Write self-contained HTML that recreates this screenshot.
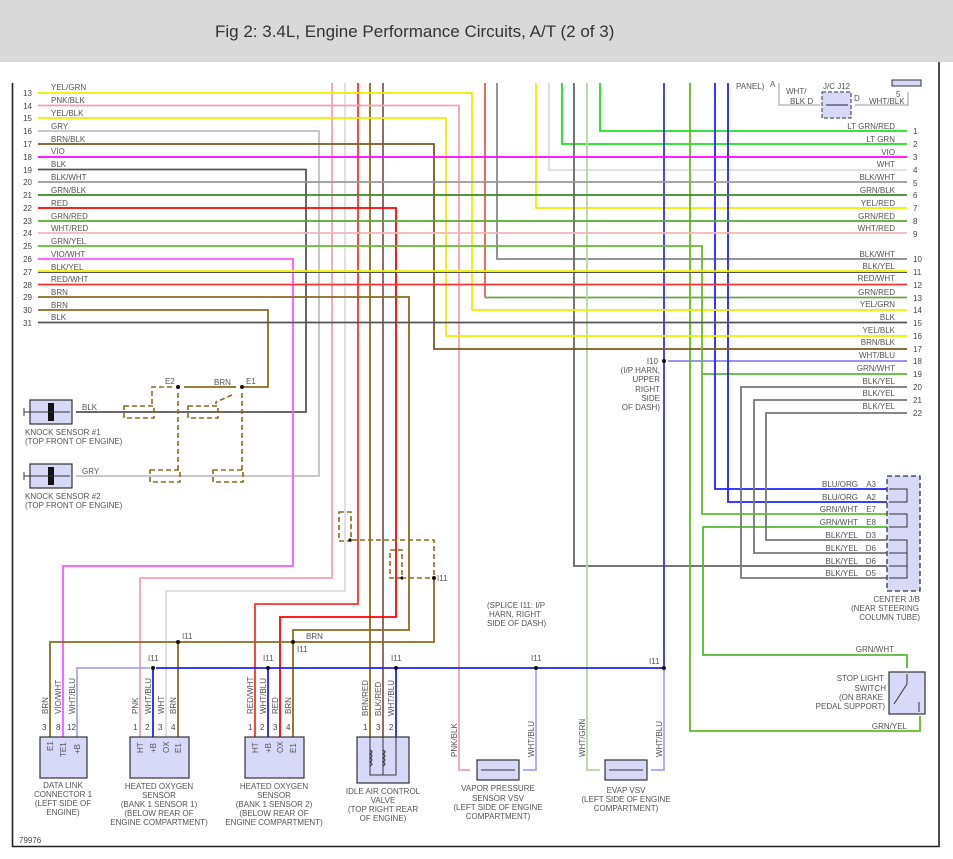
<!DOCTYPE html>
<html><head><meta charset="utf-8"><style>
html,body{margin:0;padding:0;background:#fff;}
svg{display:block;font-family:"Liberation Sans",sans-serif;}
.t{font-size:8px;fill:#555;}
.n{font-size:8px;fill:#444;}
.w{fill:none;stroke-width:1.8;}
.d{fill:none;stroke:#8b6b20;stroke-width:1.6;stroke-dasharray:5,3;}
.c{fill:#d8d8f8;stroke:#333;stroke-width:1.2;}
</style></head><body>
<svg width="953" height="859" viewBox="0 0 953 859" xmlns="http://www.w3.org/2000/svg">
<rect x="0" y="0" width="953" height="62" fill="#d9d9d9"/>
<text x="215" y="37" font-size="17" fill="#333">Fig 2: 3.4L, Engine Performance Circuits, A/T (2 of 3)</text>
<!-- frame -->
<path d="M12.5 83 V846.5 H939 V62" fill="none" stroke="#222" stroke-width="1.6"/>

<!-- verticals from top -->
<path class="w" stroke="#f6a0b4" d="M332 83 V578 H140 V737"/>
<path class="w" stroke="#dcdcdc" d="M345 83 V591 H166 V737"/>
<path class="w" stroke="#ff3030" d="M358 83 V604 H255 V737"/>
<path class="w" stroke="#8b6b20" d="M370 83 V737"/>
<path class="w" stroke="#8a5a5a" d="M383 83 V737"/>
<path class="w" stroke="#e06050" d="M485 83 V297.5"/>
<path class="w" stroke="#66aa44" d="M485 297.5 H907"/>
<path class="w" stroke="#888" d="M497 83 V259 H907"/>
<path class="w" stroke="#eeee00" d="M536 83 V208 H907"/>
<path class="w" stroke="#dcdcdc" d="M549 83 V170 H907"/>
<path class="w" stroke="#22dd22" d="M562 83 V144 H907"/>
<path class="w" stroke="#666" d="M574 83 V566 H887"/>
<path class="w" stroke="#b0d8a0" d="M587 83 V770 H600"/>
<path class="w" stroke="#22dd22" d="M600 83 V131 H907"/>
<path class="w" stroke="#3333ee" d="M664 83 V668"/>
<path class="w" stroke="#a8a8ee" d="M664 668 V770 H651"/>
<path class="w" stroke="#8888ee" d="M668 361 H907"/>
<path class="w" stroke="#66bb22" d="M690 83 V731 H920 V716"/>
<path class="w" stroke="#55bb33" d="M702 374 H907"/>
<path class="w" stroke="#55bb33" d="M887 527 H703 V655 H907 V668"/>
<path class="w" stroke="#2222ff" d="M715 83 V489 H887"/>
<path class="w" stroke="#2222ff" d="M728 83 V502 H887"/>
<path class="w" stroke="#777" d="M907 387 H741 V578 H887"/>
<path class="w" stroke="#777" d="M907 400 H754 V553 H887"/>
<path class="w" stroke="#777" d="M907 413 H766 V540 H887"/>

<!-- left rows -->
<path class="w" stroke="#eeee00" d="M38 93 H472 V310 H907"/>
<path class="w" stroke="#f6a0b4" d="M38 105.5 H459 V770 H470"/>
<path class="w" stroke="#eeee00" d="M38 118 H446 V336 H907"/>
<path class="w" stroke="#c0c0c0" d="M38 131 H319 V476 H76"/>
<path class="w" stroke="#7a5a20" d="M38 144 H434 V349 H907"/>
<path class="w" stroke="#ff00ff" d="M38 157 H907"/>
<path class="w" stroke="#555" d="M38 169.5 H306 V412 H76"/>
<path class="w" stroke="#999" d="M38 182 H907"/>
<path class="w" stroke="#3a8a2a" d="M38 195 H907"/>
<path class="w" stroke="#ff0000" d="M38 208 H396 V617 H280 V737"/>
<path class="w" stroke="#55aa33" d="M38 221 H907"/>
<path class="w" stroke="#f5b5b5" d="M38 233 H907"/>
<path class="w" stroke="#66bb33" d="M38 246 H702 V514 H887"/>
<path class="w" stroke="#ff55ff" d="M38 259 H293 V566 H63 V737"/>
<path class="w" stroke="#eeee00" d="M38 271 H907"/>
<path fill="none" stroke="#555" stroke-width="1" d="M38 272.5 H907"/>
<path class="w" stroke="#ff3333" d="M38 284.5 H907"/>
<path class="w" stroke="#8b6b20" d="M38 297 H409 V630 H293 V737"/>
<path class="w" stroke="#8b6b20" d="M38 310 H268 V387 H242"/>
<path class="w" stroke="#555" d="M38 322.5 H907"/>

<!-- buses -->
<path class="w" stroke="#8b6b20" d="M50 737 V642 H434 V578"/>
<path class="w" stroke="#8b6b20" d="M178 642 V737"/>
<path class="w" stroke="#8b6b20" d="M184 387 H236"/>
<path class="w" stroke="#a8a8ee" d="M77 737 V668 H150"/>
<path class="w" stroke="#2020ff" d="M156 668 H664"/>
<path class="w" stroke="#2020ff" d="M153 668 V737 M268 668 V737 M396 668 V737"/>
<path class="w" stroke="#a8a8ee" d="M536 668 V770 H523"/>

<!-- shields -->
<path class="d" d="M172 387 H152 V404 M178 393 V470 M242 393 V470 M232 395 L216 402 V404"/>
<rect class="d" x="124" y="406" width="30" height="12" stroke-width="1.2"/>
<rect class="d" x="188" y="406" width="30" height="12" stroke-width="1.2"/>
<rect class="d" x="150" y="470" width="30" height="12" stroke-width="1.2"/>
<rect class="d" x="213" y="470" width="30" height="12" stroke-width="1.2"/>
<path class="d" d="M352 540 H434 V578 M430 578 H404"/>
<rect class="d" x="339" y="512" width="12" height="29" stroke-width="1.2"/>
<rect class="d" x="390" y="550" width="12" height="28" stroke-width="1.2"/>

<!-- dots -->
<g fill="#111">
<circle cx="178" cy="387" r="2"/><circle cx="242" cy="387" r="2"/>
<circle cx="178" cy="642" r="2"/><circle cx="293" cy="642" r="2"/>
<circle cx="153" cy="668" r="2"/><circle cx="268" cy="668" r="2"/>
<circle cx="396" cy="668" r="2"/><circle cx="536" cy="668" r="2"/>
<circle cx="664" cy="668" r="2"/><circle cx="664" cy="361" r="2"/>
<circle cx="434" cy="578" r="2"/><circle cx="350" cy="540" r="1.6"/><circle cx="402" cy="578" r="1.6"/>
</g>

<!-- left labels -->
<g class="t">
<text x="51" y="90">YEL/GRN</text><text x="51" y="103">PNK/BLK</text><text x="51" y="116">YEL/BLK</text>
<text x="51" y="129">GRY</text><text x="51" y="142">BRN/BLK</text><text x="51" y="154">VIO</text>
<text x="51" y="167">BLK</text><text x="51" y="180">BLK/WHT</text><text x="51" y="193">GRN/BLK</text>
<text x="51" y="206">RED</text><text x="51" y="219">GRN/RED</text><text x="51" y="231">WHT/RED</text>
<text x="51" y="244">GRN/YEL</text><text x="51" y="257">VIO/WHT</text><text x="51" y="270">BLK/YEL</text>
<text x="51" y="282">RED/WHT</text><text x="51" y="295">BRN</text><text x="51" y="308">BRN</text>
<text x="51" y="320">BLK</text>
</g>
<g class="n" text-anchor="end">
<text x="32" y="96">13</text><text x="32" y="109">14</text><text x="32" y="121">15</text><text x="32" y="134">16</text>
<text x="32" y="147">17</text><text x="32" y="160">18</text><text x="32" y="173">19</text><text x="32" y="185">20</text>
<text x="32" y="198">21</text><text x="32" y="211">22</text><text x="32" y="224">23</text><text x="32" y="236">24</text>
<text x="32" y="249">25</text><text x="32" y="262">26</text><text x="32" y="275">27</text><text x="32" y="288">28</text>
<text x="32" y="300">29</text><text x="32" y="313">30</text><text x="32" y="326">31</text>
</g>
<!-- right labels -->
<g class="t" text-anchor="end">
<text x="895" y="129">LT GRN/RED</text><text x="895" y="142">LT GRN</text><text x="895" y="155">VIO</text>
<text x="895" y="167">WHT</text><text x="895" y="180">BLK/WHT</text><text x="895" y="193">GRN/BLK</text>
<text x="895" y="206">YEL/RED</text><text x="895" y="219">GRN/RED</text><text x="895" y="231">WHT/RED</text>
<text x="895" y="257">BLK/WHT</text><text x="895" y="269">BLK/YEL</text><text x="895" y="281">RED/WHT</text>
<text x="895" y="295">GRN/RED</text><text x="895" y="307">YEL/GRN</text><text x="895" y="320">BLK</text>
<text x="895" y="333">YEL/BLK</text><text x="895" y="345">BRN/BLK</text><text x="895" y="358">WHT/BLU</text>
<text x="895" y="371">GRN/WHT</text><text x="895" y="384">BLK/YEL</text><text x="895" y="396">BLK/YEL</text>
<text x="895" y="409">BLK/YEL</text>
</g>
<g class="n">
<text x="913" y="134">1</text><text x="913" y="147">2</text><text x="913" y="160">3</text><text x="913" y="173">4</text>
<text x="913" y="186">5</text><text x="913" y="198">6</text><text x="913" y="211">7</text><text x="913" y="224">8</text>
<text x="913" y="237">9</text><text x="913" y="262">10</text><text x="913" y="275">11</text><text x="913" y="288">12</text>
<text x="913" y="301">13</text><text x="913" y="313">14</text><text x="913" y="326">15</text><text x="913" y="339">16</text>
<text x="913" y="352">17</text><text x="913" y="364">18</text><text x="913" y="377">19</text><text x="913" y="390">20</text>
<text x="913" y="403">21</text><text x="913" y="416">22</text>
</g>

<!-- top right J/C -->
<path fill="none" stroke="#bbb" stroke-width="1.5" d="M779 83 V105 H820 M855 105 H908 V92"/>
<rect x="822" y="92" width="29" height="26" fill="#d8d8f8" stroke="#333" stroke-dasharray="4,2"/>
<path d="M826 105 H848" stroke="#222" stroke-width="1"/>
<rect x="892" y="80" width="29" height="6" fill="#d8d8f8" stroke="#333"/>
<g class="t"><text x="736" y="89">PANEL)</text><text x="770" y="87">A</text><text x="786" y="94">WHT/</text>
<text x="790" y="104">BLK  D</text><text x="823" y="89">J/C J12</text><text x="854" y="101">D</text>
<text x="896" y="97">5</text><text x="869" y="104">WHT/BLK</text></g>

<!-- I10 -->
<g class="t" text-anchor="end"><text x="658" y="364">I10</text><text x="660" y="373">(I/P HARN,</text>
<text x="660" y="382">UPPER</text><text x="660" y="392">RIGHT</text><text x="660" y="401">SIDE</text><text x="660" y="410">OF DASH)</text></g>

<!-- knock sensors -->
<rect class="c" x="30" y="400" width="42" height="24"/>
<rect class="c" x="30" y="464" width="42" height="24"/>
<rect x="48" y="403" width="6" height="18" fill="#111"/><rect x="48" y="467" width="6" height="18" fill="#111"/>
<path d="M24 412 H70 M24 476 H70 M24 408 V416 M24 472 V480" stroke="#333" stroke-width="1"/>
<g class="t"><text x="82" y="410">BLK</text><text x="82" y="474">GRY</text>
<text x="25" y="435">KNOCK SENSOR #1</text><text x="25" y="444">(TOP FRONT OF ENGINE)</text>
<text x="25" y="499">KNOCK SENSOR #2</text><text x="25" y="508">(TOP FRONT OF ENGINE)</text>
<text x="165" y="384">E2</text><text x="214" y="385">BRN</text><text x="246" y="384">E1</text>
<text x="437" y="581">I11</text><text x="182" y="639">I11</text><text x="306" y="639">BRN</text><text x="297" y="652">I11</text>
<text x="148" y="661">I11</text><text x="263" y="661">I11</text><text x="391" y="661">I11</text>
<text x="531" y="661">I11</text><text x="649" y="664">I11</text>
<text x="487" y="608">(SPLICE I11: I/P</text><text x="489" y="617">HARN, RIGHT</text><text x="487" y="626">SIDE OF DASH)</text>
<text x="19" y="843" fill="#444">79976</text></g>

<!-- bottom connectors -->
<rect class="c" x="40" y="737" width="47" height="41"/>
<rect class="c" x="130" y="737" width="59" height="41"/>
<rect class="c" x="245" y="737" width="59" height="41"/>
<rect class="c" x="357" y="737" width="52" height="46"/>
<path d="M370 737 V775 H396 V737 M383 737 V775" stroke="#333" fill="none" stroke-width="1"/>
<path d="M370 750 q4 2 0 4 q4 2 0 4 q4 2 0 4 q4 2 0 4 M383 750 q4 2 0 4 q4 2 0 4 q4 2 0 4 q4 2 0 4" stroke="#333" fill="none" stroke-width="1"/>
<rect class="c" x="477" y="760" width="42" height="20"/>
<rect class="c" x="605" y="760" width="42" height="20"/>
<path d="M481 770 H515 M609 770 H643" stroke="#333" stroke-width="1"/>
<g class="n">
<text x="42" y="730">3</text><text x="56" y="730">8</text><text x="67" y="730">12</text>
<text x="133" y="730">1</text><text x="145" y="730">2</text><text x="158" y="730">3</text><text x="171" y="730">4</text>
<text x="248" y="730">1</text><text x="260" y="730">2</text><text x="273" y="730">3</text><text x="286" y="730">4</text>
<text x="363" y="730">1</text><text x="376" y="730">3</text><text x="389" y="730">2</text>
</g>
<g class="t">
<text transform="translate(48,714) rotate(-90)">BRN</text><text transform="translate(61,714) rotate(-90)">VIO/WHT</text><text transform="translate(75,714) rotate(-90)">WHT/BLU</text>
<text transform="translate(138,714) rotate(-90)">PNK</text><text transform="translate(151,714) rotate(-90)">WHT/BLU</text><text transform="translate(164,714) rotate(-90)">WHT</text><text transform="translate(176,714) rotate(-90)">BRN</text>
<text transform="translate(253,714) rotate(-90)">RED/WHT</text><text transform="translate(266,714) rotate(-90)">WHT/BLU</text><text transform="translate(278,714) rotate(-90)">RED</text><text transform="translate(291,714) rotate(-90)">BRN</text>
<text transform="translate(368,716) rotate(-90)">BRN/RED</text><text transform="translate(381,716) rotate(-90)">BLK/RED</text><text transform="translate(394,716) rotate(-90)">WHT/BLU</text>
<text transform="translate(457,757) rotate(-90)">PNK/BLK</text><text transform="translate(534,757) rotate(-90)">WHT/BLU</text>
<text transform="translate(585,757) rotate(-90)">WHT/GRN</text><text transform="translate(662,757) rotate(-90)">WHT/BLU</text>
<text transform="translate(53,751) rotate(-90)">E1</text><text transform="translate(66,757) rotate(-90)">TE1</text><text transform="translate(80,754) rotate(-90)">+B</text>
<text transform="translate(143,753) rotate(-90)">HT</text><text transform="translate(156,753) rotate(-90)">+B</text><text transform="translate(169,753) rotate(-90)">OX</text><text transform="translate(181,753) rotate(-90)">E1</text>
<text transform="translate(258,753) rotate(-90)">HT</text><text transform="translate(271,753) rotate(-90)">+B</text><text transform="translate(283,753) rotate(-90)">OX</text><text transform="translate(296,753) rotate(-90)">E1</text>
</g>
<g class="t" text-anchor="middle">
<text x="63" y="788">DATA LINK</text><text x="63" y="797">CONNECTOR 1</text><text x="63" y="806">(LEFT SIDE OF</text><text x="63" y="815">ENGINE)</text>
<text x="159" y="789">HEATED OXYGEN</text><text x="159" y="798">SENSOR</text><text x="159" y="807">(BANK 1 SENSOR 1)</text><text x="159" y="816">(BELOW REAR OF</text><text x="159" y="825">ENGINE COMPARTMENT)</text>
<text x="274" y="789">HEATED OXYGEN</text><text x="274" y="798">SENSOR</text><text x="274" y="807">(BANK 1 SENSOR 2)</text><text x="274" y="816">(BELOW REAR OF</text><text x="274" y="825">ENGINE COMPARTMENT)</text>
<text x="383" y="794">IDLE AIR CONTROL</text><text x="383" y="803">VALVE</text><text x="383" y="812">(TOP RIGHT REAR</text><text x="383" y="821">OF ENGINE)</text>
<text x="498" y="791">VAPOR PRESSURE</text><text x="498" y="801">SENSOR VSV</text><text x="498" y="810">(LEFT SIDE OF ENGINE</text><text x="498" y="819">COMPARTMENT)</text>
<text x="626" y="793">EVAP VSV</text><text x="626" y="802">(LEFT SIDE OF ENGINE</text><text x="626" y="811">COMPARTMENT)</text>
</g>

<!-- center J/B -->
<rect x="887" y="476" width="33" height="115" fill="#d8d8f8" stroke="#333" stroke-dasharray="5,3" stroke-width="1.3"/>
<path d="M889 489 H907 V502 H889 M889 514 H907 V527 H889 M889 540 H907 V578 H889 M889 553 H907 M889 566 H907" fill="none" stroke="#333" stroke-width="1"/>
<g class="t" text-anchor="end">
<text x="858" y="487">BLU/ORG</text><text x="858" y="500">BLU/ORG</text><text x="858" y="512">GRN/WHT</text><text x="858" y="525">GRN/WHT</text>
<text x="858" y="538">BLK/YEL</text><text x="858" y="551">BLK/YEL</text><text x="858" y="564">BLK/YEL</text><text x="858" y="576">BLK/YEL</text>
<text x="876" y="487">A3</text><text x="876" y="500">A2</text><text x="876" y="512">E7</text><text x="876" y="525">E8</text>
<text x="876" y="538">D3</text><text x="876" y="551">D6</text><text x="876" y="564">D6</text><text x="876" y="576">D5</text>
<text x="920" y="602">CENTER J/B</text><text x="919" y="611">(NEAR STEERING</text><text x="920" y="620">COLUMN TUBE)</text>
<text x="894" y="652">GRN/WHT</text><text x="907" y="729">GRN/YEL</text>
<text x="884" y="681">STOP LIGHT</text><text x="886" y="691">SWITCH</text><text x="883" y="700">(ON BRAKE</text><text x="885" y="709">PEDAL SUPPORT)</text>
</g>
<rect class="c" x="889" y="672" width="36" height="42"/>
<path d="M907 674 V684 L894 704 M919 702 V712" stroke="#333" stroke-width="1" fill="none"/>
</svg>
</body></html>
